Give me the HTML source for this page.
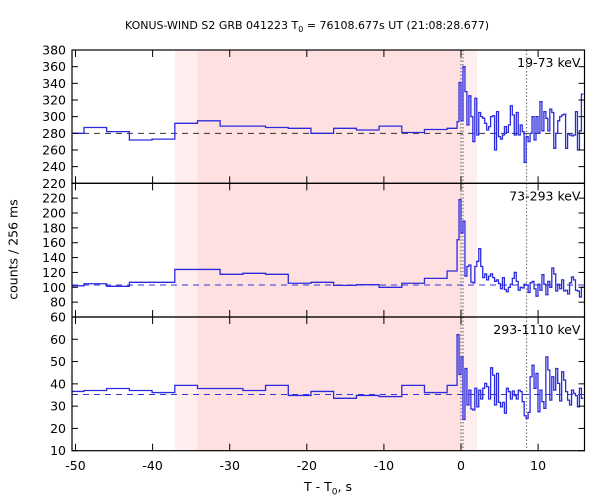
<!DOCTYPE html>
<html><head><meta charset="utf-8"><style>body{margin:0;background:#fff}svg{display:block;font-family:"DejaVu Sans","Liberation Sans",sans-serif}</style></head>
<body>
<svg id="chart" width="600" height="500" viewBox="0 0 600 500"></svg>
<script>
// coarse bin edges (s) and fine bin parameters
const coarseEdges = [-50.5,-48.9,-45.96,-43.01,-40.07,-37.12,-34.18,-31.24,-28.29,-25.35,-22.4,-19.46,-16.52,-13.57,-10.63,-7.68,-4.74,-1.8,-0.512];
const fineStart = -0.512, fineWidth = 0.256;
const top19 = [280,287,282,272,273,292,295,288.6,288.6,287,286,280,286,284,288.6,281,284.6,286];
const top19fine = [294,341,295,360,330,290,325,300,270,322,278,305,300,298,292,284,288,300,301,260,306,276,273,278,288,281,290,313,302,278,305,278,290,282,245,276,270,280,300,272,300,280,318,283,306,298,283,309,305,262,280,295,300,302,303,262,279,278,277,278,306,260,283,327];
const mid73 = [102,104.8,101.3,106.7,106.7,124,124,117.5,118.8,117.5,105.4,106.7,102.6,103.5,100,105.4,112,121.9];
const mid73fine = [164,218,173,189,115,128,130,107,106,128,135,152,128,113,118,110,115,118,113,108,110,105,98,113,97,94,100,104,112,120,108,96,100,99,104,103,93,106,108,98,88,104,96,117,104,90,108,100,126,118,95,104,98,110,95,96,91,106,114,110,96,95,87,100];
const bot293 = [36.6,37,37.9,37,36.1,39.3,37.9,37.9,37,39.3,34.8,36.6,33.5,34.8,34.3,39.3,36.1,39.3];
const bot293fine = [62.1,44.2,52.1,24,46.9,30.5,37.2,28.7,28.3,38,29.7,37.2,33.2,38,40.2,38.7,33.2,47.2,43.9,30.5,44.7,31.7,29.7,31.7,26.8,38,36.5,33.2,36.8,34.7,33.2,37.2,36.5,32,25.7,24.5,27.2,43.2,48.4,38,44.7,27.5,37.2,32,29,52.1,46.2,32.7,43.2,37.2,46.9,40.2,32.3,45.4,41.7,36.5,32.7,30.5,37.2,35.7,34.7,29.7,38,33.5];
const bgLevels = [280,103,35.2];
const panelLabels = ["19-73 keV","73-293 keV","293-1110 keV"];
const yTicks = [[220,240,260,280,300,320,340,360,380],[60,80,100,120,140,160,180,200,220],[10,20,30,40,50,60]];
const yRanges = [[220,380],[60,240],[10,70]];
const xTicks = [-50,-40,-30,-20,-10,0,10];
const shadeLight1 = [-37.12,-34.18], shadeDark = [-34.18,0], shadeLight2 = [0,2.07];
const dottedTimes = [0,0.26,8.5];

const L=72,R=584.5,X0=461,XS=7.71;
const panels=[[50,183.3],[183.3,317],[317,450.7]];
const x=t=>X0+XS*t;
const svg=document.getElementById('chart');
const NS='http://www.w3.org/2000/svg';
function mk(tag,attrs,parent){const e=document.createElementNS(NS,tag);for(const k in attrs)e.setAttribute(k,attrs[k]);(parent||svg).appendChild(e);return e;}
const clampX=v=>Math.max(L,Math.min(R,v));
[[shadeLight1,'#ffeeee','shade-pre'],[shadeDark,'#ffe0e0','shade-main'],[shadeLight2,'#ffeeee','shade-post']].forEach(([s,c,n])=>{
 const r=mk('rect',{x:x(s[0]),y:50,width:x(s[1])-x(s[0]),height:400.7,fill:c});
 
 
});
const series=[[top19,top19fine],[mid73,mid73fine],[bot293,bot293fine]];
const names=['series-19-73kev','series-73-293kev','series-293-1110kev'];
panels.forEach(([pt,pb],i)=>{
 const [lo,hi]=yRanges[i];
 const y=v=>pb-(v-lo)*(pb-pt)/(hi-lo);
 const g=mk('g',{});
 
 
 dottedTimes.forEach(t=>{const l=mk('line',{x1:x(t),x2:x(t),y1:pt,y2:pb,stroke:'#777','stroke-width':1.2,'stroke-dasharray':'1.5,2'},g);
  
  });
 const bg=mk('line',{x1:L,x2:R,y1:y(bgLevels[i]),y2:y(bgLevels[i]),stroke:i==0?'#333':'#3333dd','stroke-width':1,'stroke-dasharray':'6,5'},g);
 
 
 const [cv,fv]=series[i];
 const edges=coarseEdges.slice(); const vals=cv.concat(fv);
 for(let k=1;k<=fv.length;k++)edges.push(fineStart+k*fineWidth);
 let d='';
 for(let k=0;k<vals.length;k++){
  const xa=clampX(x(edges[k])),xb=clampX(x(edges[k+1])),yy=y(vals[k]);
  d+=(k==0?'M'+xa+','+yy:'V'+yy)+'H'+xb;
 }
 const p=mk('path',{d:d,fill:'none',stroke:'#2b2bdd','stroke-width':1.3},g);
 
 
 mk('rect',{x:L,y:pt,width:R-L,height:pb-pt,fill:'none',stroke:'#000','stroke-width':1.2},g);
 yTicks[i].forEach((v,j)=>{const yy=y(v);
  mk('line',{x1:L,x2:L+6,y1:yy,y2:yy,stroke:'#000'},g);
  mk('line',{x1:R-6,x2:R,y1:yy,y2:yy,stroke:'#000'},g);
  const t=mk('text',{x:L-6,y:yy+4.5,'text-anchor':'end','font-size':12.5,fill:'#000'},g);t.textContent=v;
  
  
 });
 xTicks.forEach(t=>{const xx=x(t);
  mk('line',{x1:xx,x2:xx,y1:pb,y2:pb-7,stroke:'#000'},g);
  mk('line',{x1:xx,x2:xx,y1:pt,y2:pt+7,stroke:'#000'},g);});
 const lab=mk('text',{x:R-4,y:pt+17,'text-anchor':'end','font-size':12.5,fill:'#000'},g);lab.textContent=panelLabels[i];
 
 
});
xTicks.forEach(t=>{const tx=mk('text',{x:x(t),y:470,'text-anchor':'middle','font-size':12.5,fill:'#000'});tx.textContent=t;
 
 });
</script>
<div style="position:absolute;left:0;top:0;width:600px;height:500px;pointer-events:none">
<div style="position:absolute;top:19px;left:7px;width:600px;text-align:center;font:11px 'DejaVu Sans',sans-serif">KONUS-WIND S2 GRB 041223 T<sub style="font-size:8px">0</sub> = 76108.677s UT (21:08:28.677)</div>
<div style="position:absolute;top:479px;left:0;width:656px;text-align:center;font:12.5px 'DejaVu Sans',sans-serif">T - T<sub style="font-size:9px">0</sub>, s</div>
<div style="position:absolute;left:-57px;top:242px;width:140px;text-align:center;transform:rotate(-90deg);font:12.5px 'DejaVu Sans',sans-serif">counts / 256 ms</div>
</div>
</body></html>
